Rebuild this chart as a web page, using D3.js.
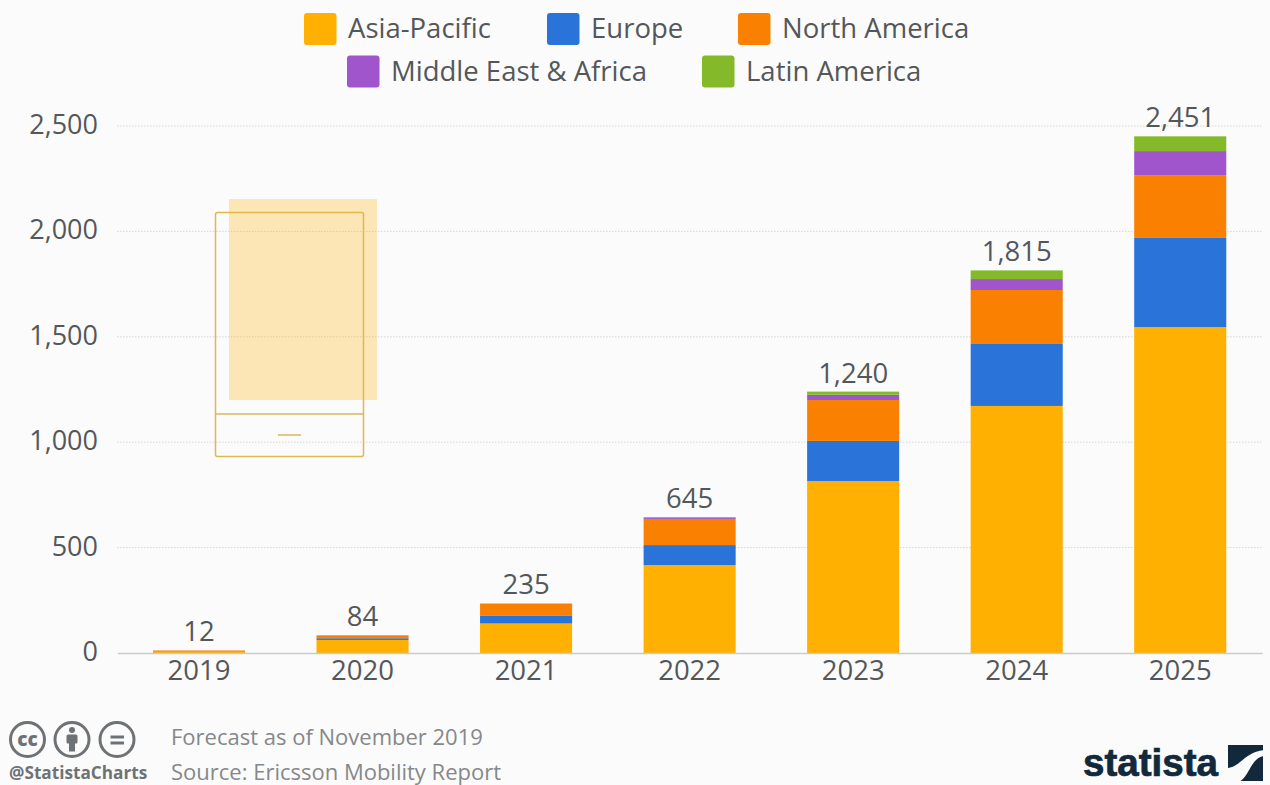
<!DOCTYPE html>
<html>
<head>
<meta charset="utf-8">
<script src="https://cdn.jsdelivr.net/npm/d3@7/dist/d3.min.js"></script>
<style>
  html, body { margin: 0; padding: 0; background: #fbfbfb; }
  svg { display: block; }
  text { font-family: "Open Sans", sans-serif; }
</style>
</head>
<body>
<svg id="chart" width="1270" height="785"></svg>
<script>
// 5G subscriptions by region, millions
const years = ["2019", "2020", "2021", "2022", "2023", "2024", "2025"];
const asiaPacific = [5, 62, 140, 417, 816, 1172, 1546];
const europe = [1, 8, 36, 95, 190, 294, 423];
const northAmerica = [6, 14, 57, 124, 194, 256, 298];
const middleEastAfrica = [0, 0, 1, 5, 25, 52, 114];
const latinAmerica = [0, 0, 1, 4, 15, 41, 70];
const totals = [12, 84, 235, 645, 1240, 1815, 2451];
const yTicks = [0, 500, 1000, 1500, 2000, 2500];

const regionNames = ["Asia-Pacific", "Europe", "North America", "Middle East & Africa", "Latin America"];
const regionColors = ["#ffb000", "#2a73d9", "#f98000", "#a055cc", "#84b92a"];
const regionValues = [asiaPacific, europe, northAmerica, middleEastAfrica, latinAmerica];

const svg = d3.select("#chart");
const INK = "#54575a";
const PAPER = "#fbfbfb";

svg.append("rect").attr("width", 1270).attr("height", 785).attr("fill", PAPER);

const rows = years.map((year, i) => {
  const row = { year };
  regionNames.forEach((name, j) => { row[name] = regionValues[j][i]; });
  return row;
});
const stacked = d3.stack().keys(regionNames)(rows);

const x = d3.scaleBand().domain(years).range([117.25, 1262]).paddingInner(0.437).paddingOuter(0.2185);
const y = d3.scaleLinear().domain([0, 2500]).range([653, 126]);

// Dotted gridlines and value axis labels
const yAxis = d3.axisLeft(y).tickValues(yTicks).tickSize(0).tickPadding(0).tickFormat(d3.format(","));
const yAxisG = svg.append("g").attr("transform", "translate(98,0)").call(yAxis);
yAxisG.select(".domain").remove();
yAxisG.selectAll("text")
  .attr("fill", INK)
  .style("font-size", "27px")
  .style("font-family", '"Open Sans", sans-serif')
  .attr("dy", "0.28em");

svg.append("g").selectAll("line").data(yTicks.filter(d => d > 0)).join("line")
  .attr("x1", 117).attr("x2", 1262)
  .attr("y1", d => y(d)).attr("y2", d => y(d))
  .attr("stroke", "#d4d5d6").attr("stroke-width", 1).attr("stroke-dasharray", "1.5 1.5");

// Device illustration sitting behind the first columns
const device = svg.append("g");
device.append("rect").attr("x", 229).attr("y", 199).attr("width", 148).attr("height", 201)
  .attr("fill", "#ffb000").attr("fill-opacity", 0.28);
device.append("rect").attr("x", 215.5).attr("y", 212.5).attr("width", 148).attr("height", 244).attr("rx", 2)
  .attr("fill", "none").attr("stroke", "#e3b84a").attr("stroke-width", 1.5);
device.append("line").attr("x1", 216).attr("x2", 363).attr("y1", 414).attr("y2", 414)
  .attr("stroke", "#d9b765").attr("stroke-width", 1.5);
device.append("line").attr("x1", 278).attr("x2", 301).attr("y1", 435).attr("y2", 435)
  .attr("stroke", "#d9b765").attr("stroke-width", 1.5);

// Stacked columns
svg.append("g").selectAll("g").data(stacked).join("g")
  .attr("fill", (d, i) => regionColors[i])
  .selectAll("rect").data(d => d).join("rect")
  .attr("x", d => x(d.data.year))
  .attr("width", x.bandwidth())
  .attr("y", d => y(d[1]))
  .attr("height", d => y(d[0]) - y(d[1]));

// Category axis
const xAxis = d3.axisBottom(x).tickSize(0).tickPadding(7);
const xAxisG = svg.append("g").attr("transform", "translate(0,653)").call(xAxis);
xAxisG.select(".domain").attr("stroke", "#c8cacc").attr("stroke-width", 1.5);
xAxisG.selectAll("text")
  .attr("fill", INK)
  .style("font-size", "27.5px")
  .style("font-family", '"Open Sans", sans-serif');

// Column totals
svg.append("g").selectAll("text").data(years).join("text")
  .attr("x", d => x(d) + x.bandwidth() / 2)
  .attr("y", (d, i) => y(totals[i]) - 9)
  .attr("text-anchor", "middle")
  .attr("fill", INK)
  .style("font-size", "27.5px")
  .text((d, i) => d3.format(",")(totals[i]));

// Legend, two centred rows
const legendItems = [
  { name: regionNames[0], color: regionColors[0], sx: 304, row: 0 },
  { name: regionNames[1], color: regionColors[1], sx: 547, row: 0 },
  { name: regionNames[2], color: regionColors[2], sx: 738, row: 0 },
  { name: regionNames[3], color: regionColors[3], sx: 347, row: 1 },
  { name: regionNames[4], color: regionColors[4], sx: 702, row: 1 }
];
const legend = svg.append("g").selectAll("g").data(legendItems).join("g")
  .attr("transform", d => `translate(${d.sx},${d.row === 0 ? 13 : 55.5})`);
legend.append("rect").attr("width", 32.5).attr("height", 32).attr("rx", 3).attr("fill", d => d.color);
legend.append("text").attr("x", 44).attr("y", 25).attr("fill", INK)
  .style("font-size", "27.5px").text(d => d.name);

// Licence badges
const GREY = "#6f7274";
const badges = svg.append("g").attr("fill", "none").attr("stroke", GREY).attr("stroke-width", 3);
[27.5, 72, 117].forEach(cx => badges.append("circle").attr("cx", cx).attr("cy", 739.5).attr("r", 17));
svg.append("text").attr("x", 27.5).attr("y", 746).attr("text-anchor", "middle").attr("fill", GREY)
  .style("font-size", "19px").style("font-weight", 800).text("cc");
const person = svg.append("g").attr("fill", GREY);
person.append("circle").attr("cx", 72).attr("cy", 730).attr("r", 3);
person.append("rect").attr("x", 66.5).attr("y", 734.5).attr("width", 11).attr("height", 9).attr("rx", 1.5);
person.append("rect").attr("x", 69).attr("y", 743).attr("width", 6).attr("height", 8.5);
svg.append("g").attr("fill", GREY).selectAll("rect").data([735.5, 741.5]).join("rect")
  .attr("x", 110.5).attr("y", d => d).attr("width", 13.5).attr("height", 3);

svg.append("text").attr("x", 9).attr("y", 779).attr("fill", GREY)
  .style("font-size", "17.2px").style("font-weight", 700).text("@StatistaCharts");

// Notes
svg.append("text").attr("x", 171).attr("y", 745).attr("fill", "#85888a")
  .style("font-size", "22px").text("Forecast as of November 2019");
svg.append("text").attr("x", 171).attr("y", 780).attr("fill", "#85888a")
  .style("font-size", "22px").text("Source: Ericsson Mobility Report");

// Brand mark: narrow bold wordmark fitted to its width, then the wave square
const NAVY = "#12293b";
svg.append("text").attr("x", 1083).attr("y", 776).attr("fill", NAVY)
  .attr("stroke", NAVY).attr("stroke-width", 0.7)
  .attr("textLength", 135).attr("lengthAdjust", "spacingAndGlyphs")
  .style("font-family", '"Liberation Sans Narrow", "Liberation Sans", sans-serif')
  .style("font-size", "38px").style("font-weight", 700).text("statista");
svg.append("rect").attr("x", 1228).attr("y", 745).attr("width", 35).attr("height", 36).attr("fill", NAVY);
svg.append("path")
  .attr("d", "M1226,768 C1241,768 1243,752 1265,750 L1265,756 C1249,757 1250,781 1235,783 L1226,783 Z")
  .attr("fill", PAPER);
</script>
</body>
</html>
